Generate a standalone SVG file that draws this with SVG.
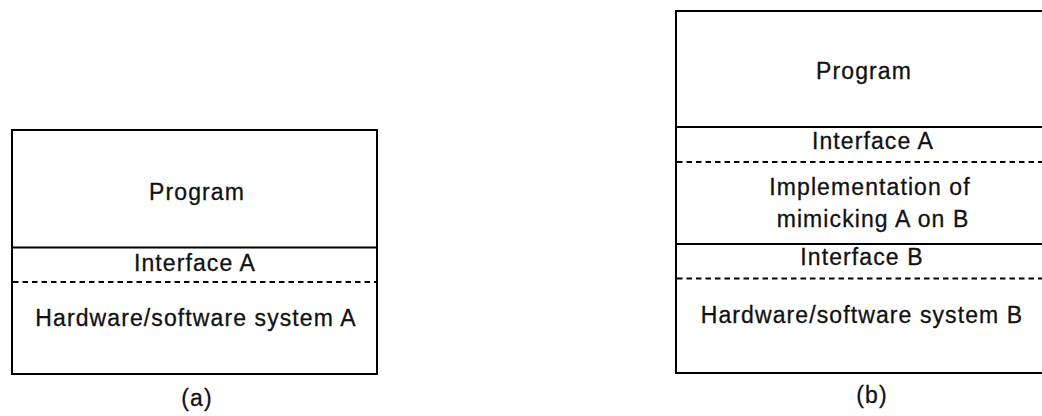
<svg xmlns="http://www.w3.org/2000/svg" width="1042" height="416" viewBox="0 0 1042 416">
<style>
.box{fill:none;stroke:#000;stroke-width:2}
.solid{stroke:#000;stroke-width:2}
.dash{stroke:#000;stroke-width:1.8;stroke-dasharray:5.5 4}
text{font-family:"Liberation Sans",Arial,sans-serif;font-size:23px;fill:#111;stroke:#111;stroke-width:0.3;text-anchor:middle;letter-spacing:1.1px}
</style>
<rect width="1042" height="416" fill="#fff"/>
<g id="diagram-a">
<g id="a-stack">
<rect class="box" x="12" y="130" width="365" height="244"/>
<line class="solid" x1="12" y1="247.5" x2="377" y2="247.5"/>
<line class="dash" x1="13" y1="282" x2="377" y2="282"/>
</g>
<g id="a-program"><text x="197" y="200">Program</text></g>
<g id="a-interface"><text x="195" y="271">Interface A</text></g>
<g id="a-hardware"><text x="196" y="326">Hardware/software system A</text></g>
<text x="197" y="406" letter-spacing="0.5">(a)</text>
</g>
<g id="diagram-b">
<g id="b-stack">
<rect class="box" x="676" y="11" width="380" height="362"/>
<line class="solid" x1="676" y1="127" x2="1042" y2="127"/>
<line class="dash" x1="677" y1="162" x2="1042" y2="162"/>
<line class="solid" x1="676" y1="244" x2="1042" y2="244"/>
<line class="dash" x1="677" y1="278.5" x2="1042" y2="278.5"/>
</g>
<g id="b-program"><text x="864" y="79">Program</text></g>
<g id="b-interface-a"><text x="873" y="149">Interface A</text></g>
<g id="b-impl"><text x="870" y="195">Implementation of</text><text x="873" y="227">mimicking A on B</text></g>
<g id="b-interface-b"><text x="862" y="265">Interface B</text></g>
<g id="b-hardware"><text x="862" y="323">Hardware/software system B</text></g>
<text x="872" y="403" letter-spacing="0.5">(b)</text>
</g>
<g id="connectors"></g>
</svg>
